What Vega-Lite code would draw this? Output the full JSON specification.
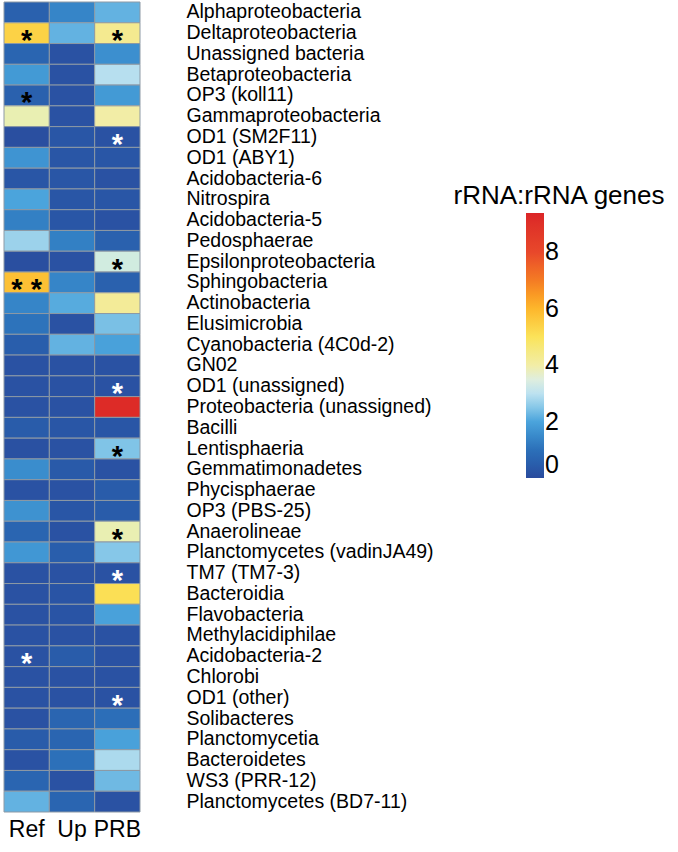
{
  "$schema": "https://vega.github.io/schema/vega-lite/v6.json",
  "width": 136,
  "height": 810,
  "padding": {"left": 3, "top": 1, "right": 0, "bottom": 0},
  "background": "white",
  "config": {"view": {"stroke": null}, "font": "Liberation Sans"},
  "data": {"values": [
    {"taxon":"Alphaproteobacteria","sample":"Ref","value":0.6,"sig":""},
    {"taxon":"Alphaproteobacteria","sample":"Up","value":1.4,"sig":""},
    {"taxon":"Alphaproteobacteria","sample":"PRB","value":2.2,"sig":""},
    {"taxon":"Deltaproteobacteria","sample":"Ref","value":5.4,"sig":"*"},
    {"taxon":"Deltaproteobacteria","sample":"Up","value":2.2,"sig":""},
    {"taxon":"Deltaproteobacteria","sample":"PRB","value":4.3,"sig":"*"},
    {"taxon":"Unassigned bacteria","sample":"Ref","value":0.7,"sig":""},
    {"taxon":"Unassigned bacteria","sample":"Up","value":0.2,"sig":""},
    {"taxon":"Unassigned bacteria","sample":"PRB","value":1.6,"sig":""},
    {"taxon":"Betaproteobacteria","sample":"Ref","value":1.8,"sig":""},
    {"taxon":"Betaproteobacteria","sample":"Up","value":0.2,"sig":""},
    {"taxon":"Betaproteobacteria","sample":"PRB","value":2.95,"sig":""},
    {"taxon":"OP3 (koll11)","sample":"Ref","value":0.6,"sig":"*"},
    {"taxon":"OP3 (koll11)","sample":"Up","value":0.2,"sig":""},
    {"taxon":"OP3 (koll11)","sample":"PRB","value":1.8,"sig":""},
    {"taxon":"Gammaproteobacteria","sample":"Ref","value":3.9,"sig":""},
    {"taxon":"Gammaproteobacteria","sample":"Up","value":0.2,"sig":""},
    {"taxon":"Gammaproteobacteria","sample":"PRB","value":4.0,"sig":""},
    {"taxon":"OD1 (SM2F11)","sample":"Ref","value":0.1,"sig":""},
    {"taxon":"OD1 (SM2F11)","sample":"Up","value":0.3,"sig":""},
    {"taxon":"OD1 (SM2F11)","sample":"PRB","value":0.2,"sig":"*"},
    {"taxon":"OD1 (ABY1)","sample":"Ref","value":1.7,"sig":""},
    {"taxon":"OD1 (ABY1)","sample":"Up","value":0.3,"sig":""},
    {"taxon":"OD1 (ABY1)","sample":"PRB","value":0.3,"sig":""},
    {"taxon":"Acidobacteria-6","sample":"Ref","value":0.3,"sig":""},
    {"taxon":"Acidobacteria-6","sample":"Up","value":0.3,"sig":""},
    {"taxon":"Acidobacteria-6","sample":"PRB","value":0.2,"sig":""},
    {"taxon":"Nitrospira","sample":"Ref","value":2.0,"sig":""},
    {"taxon":"Nitrospira","sample":"Up","value":0.3,"sig":""},
    {"taxon":"Nitrospira","sample":"PRB","value":0.3,"sig":""},
    {"taxon":"Acidobacteria-5","sample":"Ref","value":1.3,"sig":""},
    {"taxon":"Acidobacteria-5","sample":"Up","value":0.3,"sig":""},
    {"taxon":"Acidobacteria-5","sample":"PRB","value":0.2,"sig":""},
    {"taxon":"Pedosphaerae","sample":"Ref","value":2.7,"sig":""},
    {"taxon":"Pedosphaerae","sample":"Up","value":1.3,"sig":""},
    {"taxon":"Pedosphaerae","sample":"PRB","value":0.6,"sig":""},
    {"taxon":"Epsilonproteobacteria","sample":"Ref","value":0.1,"sig":""},
    {"taxon":"Epsilonproteobacteria","sample":"Up","value":0.2,"sig":""},
    {"taxon":"Epsilonproteobacteria","sample":"PRB","value":3.35,"sig":"*"},
    {"taxon":"Sphingobacteria","sample":"Ref","value":5.8,"sig":"* *"},
    {"taxon":"Sphingobacteria","sample":"Up","value":1.4,"sig":""},
    {"taxon":"Sphingobacteria","sample":"PRB","value":0.6,"sig":""},
    {"taxon":"Actinobacteria","sample":"Ref","value":1.4,"sig":""},
    {"taxon":"Actinobacteria","sample":"Up","value":2.1,"sig":""},
    {"taxon":"Actinobacteria","sample":"PRB","value":4.2,"sig":""},
    {"taxon":"Elusimicrobia","sample":"Ref","value":1.05,"sig":""},
    {"taxon":"Elusimicrobia","sample":"Up","value":0.2,"sig":""},
    {"taxon":"Elusimicrobia","sample":"PRB","value":2.4,"sig":""},
    {"taxon":"Cyanobacteria (4C0d-2)","sample":"Ref","value":0.5,"sig":""},
    {"taxon":"Cyanobacteria (4C0d-2)","sample":"Up","value":2.2,"sig":""},
    {"taxon":"Cyanobacteria (4C0d-2)","sample":"PRB","value":1.95,"sig":""},
    {"taxon":"GN02","sample":"Ref","value":0.2,"sig":""},
    {"taxon":"GN02","sample":"Up","value":0.2,"sig":""},
    {"taxon":"GN02","sample":"PRB","value":0.2,"sig":""},
    {"taxon":"OD1 (unassigned)","sample":"Ref","value":0.2,"sig":""},
    {"taxon":"OD1 (unassigned)","sample":"Up","value":0.2,"sig":""},
    {"taxon":"OD1 (unassigned)","sample":"PRB","value":0.2,"sig":"*"},
    {"taxon":"Proteobacteria (unassigned)","sample":"Ref","value":0.2,"sig":""},
    {"taxon":"Proteobacteria (unassigned)","sample":"Up","value":0.2,"sig":""},
    {"taxon":"Proteobacteria (unassigned)","sample":"PRB","value":9.2,"sig":""},
    {"taxon":"Bacilli","sample":"Ref","value":0.45,"sig":""},
    {"taxon":"Bacilli","sample":"Up","value":0.3,"sig":""},
    {"taxon":"Bacilli","sample":"PRB","value":0.3,"sig":""},
    {"taxon":"Lentisphaeria","sample":"Ref","value":0.15,"sig":""},
    {"taxon":"Lentisphaeria","sample":"Up","value":0.2,"sig":""},
    {"taxon":"Lentisphaeria","sample":"PRB","value":2.45,"sig":"*"},
    {"taxon":"Gemmatimonadetes","sample":"Ref","value":1.55,"sig":""},
    {"taxon":"Gemmatimonadetes","sample":"Up","value":0.4,"sig":""},
    {"taxon":"Gemmatimonadetes","sample":"PRB","value":0.2,"sig":""},
    {"taxon":"Phycisphaerae","sample":"Ref","value":0.2,"sig":""},
    {"taxon":"Phycisphaerae","sample":"Up","value":0.2,"sig":""},
    {"taxon":"Phycisphaerae","sample":"PRB","value":0.45,"sig":""},
    {"taxon":"OP3 (PBS-25)","sample":"Ref","value":1.65,"sig":""},
    {"taxon":"OP3 (PBS-25)","sample":"Up","value":0.3,"sig":""},
    {"taxon":"OP3 (PBS-25)","sample":"PRB","value":0.45,"sig":""},
    {"taxon":"Anaerolineae","sample":"Ref","value":0.7,"sig":""},
    {"taxon":"Anaerolineae","sample":"Up","value":0.2,"sig":""},
    {"taxon":"Anaerolineae","sample":"PRB","value":3.9,"sig":"*"},
    {"taxon":"Planctomycetes (vadinJA49)","sample":"Ref","value":1.75,"sig":""},
    {"taxon":"Planctomycetes (vadinJA49)","sample":"Up","value":0.5,"sig":""},
    {"taxon":"Planctomycetes (vadinJA49)","sample":"PRB","value":2.5,"sig":""},
    {"taxon":"TM7 (TM7-3)","sample":"Ref","value":0.2,"sig":""},
    {"taxon":"TM7 (TM7-3)","sample":"Up","value":0.2,"sig":""},
    {"taxon":"TM7 (TM7-3)","sample":"PRB","value":0.2,"sig":"*"},
    {"taxon":"Bacteroidia","sample":"Ref","value":0.2,"sig":""},
    {"taxon":"Bacteroidia","sample":"Up","value":0.25,"sig":""},
    {"taxon":"Bacteroidia","sample":"PRB","value":5.1,"sig":""},
    {"taxon":"Flavobacteria","sample":"Ref","value":0.2,"sig":""},
    {"taxon":"Flavobacteria","sample":"Up","value":0.25,"sig":""},
    {"taxon":"Flavobacteria","sample":"PRB","value":1.95,"sig":""},
    {"taxon":"Methylacidiphilae","sample":"Ref","value":0.2,"sig":""},
    {"taxon":"Methylacidiphilae","sample":"Up","value":0.2,"sig":""},
    {"taxon":"Methylacidiphilae","sample":"PRB","value":0.2,"sig":""},
    {"taxon":"Acidobacteria-2","sample":"Ref","value":0.2,"sig":"*"},
    {"taxon":"Acidobacteria-2","sample":"Up","value":0.45,"sig":""},
    {"taxon":"Acidobacteria-2","sample":"PRB","value":0.2,"sig":""},
    {"taxon":"Chlorobi","sample":"Ref","value":0.2,"sig":""},
    {"taxon":"Chlorobi","sample":"Up","value":0.2,"sig":""},
    {"taxon":"Chlorobi","sample":"PRB","value":0.2,"sig":""},
    {"taxon":"OD1 (other)","sample":"Ref","value":0.2,"sig":""},
    {"taxon":"OD1 (other)","sample":"Up","value":0.2,"sig":""},
    {"taxon":"OD1 (other)","sample":"PRB","value":0.2,"sig":"*"},
    {"taxon":"Solibacteres","sample":"Ref","value":0.2,"sig":""},
    {"taxon":"Solibacteres","sample":"Up","value":0.7,"sig":""},
    {"taxon":"Solibacteres","sample":"PRB","value":0.95,"sig":""},
    {"taxon":"Planctomycetia","sample":"Ref","value":0.45,"sig":""},
    {"taxon":"Planctomycetia","sample":"Up","value":0.7,"sig":""},
    {"taxon":"Planctomycetia","sample":"PRB","value":1.95,"sig":""},
    {"taxon":"Bacteroidetes","sample":"Ref","value":0.2,"sig":""},
    {"taxon":"Bacteroidetes","sample":"Up","value":1.0,"sig":""},
    {"taxon":"Bacteroidetes","sample":"PRB","value":2.85,"sig":""},
    {"taxon":"WS3 (PRR-12)","sample":"Ref","value":0.7,"sig":""},
    {"taxon":"WS3 (PRR-12)","sample":"Up","value":0.2,"sig":""},
    {"taxon":"WS3 (PRR-12)","sample":"PRB","value":2.3,"sig":""},
    {"taxon":"Planctomycetes (BD7-11)","sample":"Ref","value":2.2,"sig":""},
    {"taxon":"Planctomycetes (BD7-11)","sample":"Up","value":0.7,"sig":""},
    {"taxon":"Planctomycetes (BD7-11)","sample":"PRB","value":0.2,"sig":""}
  ]},
  "encoding": {
    "x": {"field": "sample", "type": "nominal", "sort": ["Ref", "Up", "PRB"],
      "axis": {"orient": "bottom", "title": null, "labelAngle": 0, "ticks": false, "domain": false,
        "labelFontSize": 23, "labelPadding": 6, "labelColor": "black", "labelFont": "Liberation Sans"}},
    "y": {"field": "taxon", "type": "nominal", "sort": null,
      "axis": {"orient": "right", "title": null, "ticks": false, "domain": false,
        "labelFontSize": 19.5, "labelPadding": 46, "labelLimit": 400, "labelColor": "black", "labelFont": "Liberation Sans"}}
  },
  "layer": [
    {
      "mark": {"type": "rect", "stroke": "#8d99a5", "strokeWidth": 1},
      "encoding": {
        "color": {"field": "value", "type": "quantitative",
          "scale": {"domain": [0, 1, 2, 2.5, 3, 3.5, 4, 5, 6, 7, 8, 9.4],
            "range": ["#2a4b9d", "#2c70b9", "#4ba4dc", "#86c7e8", "#bde2f0", "#dfeede", "#f2eda6", "#fbe35a", "#fdb72c", "#f47c24", "#e8482b", "#db2527"]},
          "legend": {"orient": "none", "legendX": 449, "legendY": 181, "title": "rRNA:rRNA genes",
            "titleFontSize": 26, "titleFontWeight": "normal", "titleColor": "black", "titleFont": "Liberation Sans",
            "titleAnchor": "end", "titleAlign": "center", "titlePadding": 4, "titleLimit": 400,
            "gradientLength": 265, "gradientThickness": 18, "gradientStrokeWidth": 0,
            "values": [0, 2, 4, 6, 8], "labelFontSize": 25, "labelColor": "black", "labelOffset": 1,
            "labelFont": "Liberation Sans"}}
      }
    },
    {
      "transform": [{"filter": "datum.sig != ''"}],
      "mark": {"type": "text", "fontSize": 29, "fontWeight": "bold", "baseline": "middle", "dy": 8, "font": "Liberation Sans"},
      "encoding": {
        "text": {"field": "sig"},
        "color": {"condition": {"test": "datum.value < 0.5", "value": "white"}, "value": "black"}
      }
    }
  ]
}
